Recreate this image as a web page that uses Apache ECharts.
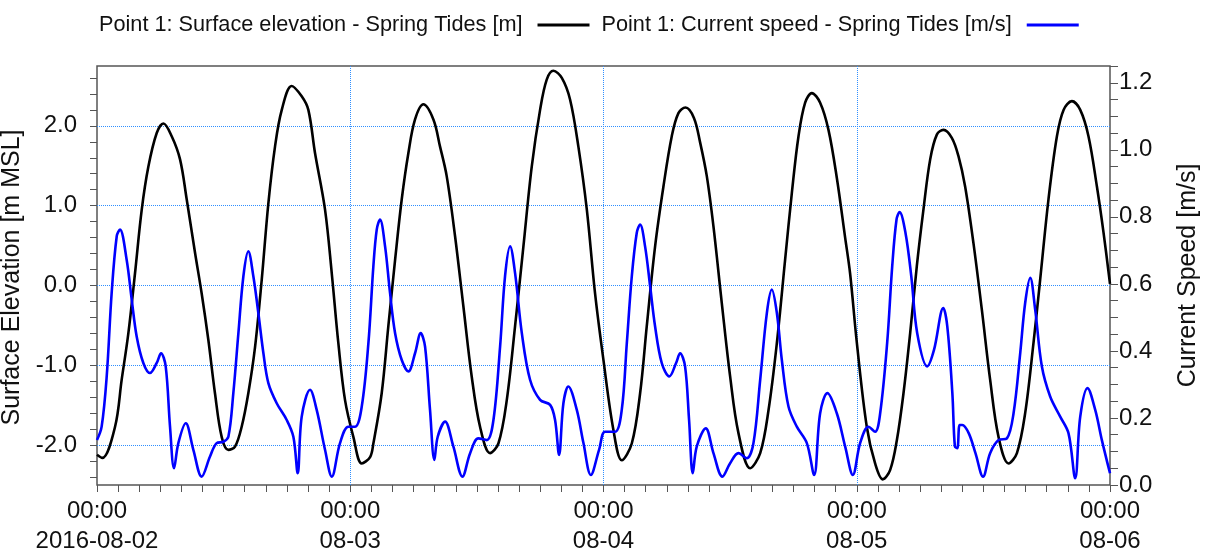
<!DOCTYPE html>
<html>
<head>
<meta charset="utf-8">
<script src="https://cdn.jsdelivr.net/npm/echarts@6/dist/echarts.min.js"></script>
<style>
  html, body { margin: 0; padding: 0; background: #ffffff; }
  #chart { width: 1205px; height: 556px; }
</style>
</head>
<body>
<div id="chart"></div>
<script>
// Series names shown in the legend
const seriesNames = [
  'Point 1: Surface elevation - Spring Tides [m]',
  'Point 1: Current speed - Spring Tides [m/s]'
];

// Time-axis labels, one per day (hours since 2016-08-02 00:00)
const dayLabels = ['00:00\n2016-08-02', '00:00\n08-03', '00:00\n08-04', '00:00\n08-05', '00:00\n08-06'];

// Axis titles
const elevAxisName = 'Surface Elevation [m MSL]';
const speedAxisName = 'Current Speed [m/s]';

// Surface elevation [m MSL]: hours since start, value
const elevHours = [
  0, 0.5, 1.71, 2.34, 2.97, 3.6, 4.24, 4.87, 5.66, 6.29, 7.08, 7.87, 8.5, 9.29, 9.92, 10.55, 11.18, 11.82,
  12.45, 13.08, 13.71, 14.34, 14.98, 15.61, 16.24, 16.87, 17.51, 18.45, 19.4, 20.03, 20.66, 21.61, 22.25,
  22.87, 23.51, 24.3, 25.09, 25.88, 26.19, 26.98, 27.61, 28.25, 28.88, 29.51, 30.14, 30.93, 31.88, 32.51,
  33.14, 33.93, 34.72, 35.51, 36.3, 37.25, 38.04, 38.83, 39.62, 40.41, 41.2, 41.99, 42.62, 43.25, 44.05,
  44.83, 45.62, 46.42, 47.2, 47.99, 48.94, 49.73, 50.68, 51.47, 52.1, 52.89, 53.68, 54.47, 55.1, 55.77,
  56.57, 57.16, 57.79, 58.42, 59.21, 60.0, 60.79, 61.9, 62.85, 63.64, 64.43, 65.21, 65.85, 66.48, 67.11,
  67.74, 68.53, 69.32, 70.11, 70.9, 71.37, 72.01, 72.95, 73.74, 74.47, 75.17, 75.8, 76.43, 77.06, 77.69,
  78.32, 78.96, 79.59, 80.22, 81.01, 81.64, 82.27, 83.06, 83.86, 84.64, 85.44, 86.39, 87.18, 87.96, 88.75,
  89.38, 90.17, 90.97, 91.6, 92.39, 93.18, 93.96, 94.76, 95.39, 96
];
const elevValues = [
  -2.12, -2.16, -1.77, -1.18, -0.6, 0.15, 0.95, 1.49, 1.91, 2.03, 1.87, 1.58, 1.08, 0.41, -0.1, -0.68, -1.35, -1.9,
  -2.06, -2.02, -1.77, -1.35, -0.77, 0.07, 1.03, 1.74, 2.2, 2.5, 2.37, 2.2, 1.66, 0.95, 0.15,
  -0.72, -1.44, -1.9, -2.23, -2.15, -1.98, -1.35, -0.51, 0.32, 1.08, 1.66, 2.08, 2.27, 2.08, 1.74,
  1.37, 0.62, -0.26, -1.14, -1.77, -2.1, -1.98, -1.44, -0.51, 0.49, 1.49, 2.2, 2.58, 2.69, 2.6,
  2.33, 1.74, 0.95, -0.1, -0.93, -1.81, -2.19, -1.98, -1.35, -0.51, 0.49, 1.24, 1.87, 2.16, 2.23,
  2.1, 1.79, 1.37, 0.74, -0.22, -1.14, -1.85, -2.29, -2.1, -1.56, -0.72, 0.32, 1.16, 1.87, 2.29,
  2.41, 2.29, 1.95, 1.35, 0.6, 0.15, -0.72, -1.77, -2.23, -2.43, -2.31, -1.94, -1.35, -0.6, 0.24,
  0.95, 1.58, 1.89, 1.95, 1.85, 1.62, 1.24, 0.53, -0.31, -1.18, -1.9, -2.23, -2.1, -1.6, -0.72,
  0.07, 1.08, 1.87, 2.2, 2.31, 2.2, 1.87, 1.24, 0.66, 0.02
];

// Current speed [m/s]: hours since start, value
const speedHours = [
  0, 0.44, 0.92, 1.39, 1.87, 2.18, 2.81, 3.29, 3.76, 4.39, 5.02, 5.66, 6.07, 6.51, 6.92, 7.3, 7.71, 8.41,
  9.13, 9.92, 10.71, 11.34, 11.97, 12.45, 12.92, 13.4, 13.87, 14.34, 14.82, 15.29, 15.77, 16.24, 17.03,
  17.98, 18.61, 19.02, 19.4, 20.19, 20.82, 21.61, 22.25, 23.03, 23.82, 24.46, 25.09, 25.72, 26.19, 26.51,
  26.82, 27.3, 27.77, 28.25, 28.88, 29.51, 30.14, 30.68, 31.09, 31.56, 31.97, 32.29, 32.99, 33.77, 34.63,
  35.36, 36.14, 36.94, 37.57, 38.2, 38.67, 39.15, 39.62, 40.26, 41.04, 41.99, 42.94, 43.41, 43.79, 44.2,
  44.67, 45.47, 46.1, 46.8, 47.58, 48.15, 49.1, 49.73, 50.21, 50.68, 51.15, 51.47, 51.94, 52.42, 52.89,
  53.52, 54.24, 54.88, 55.26, 55.73, 56.11, 56.46, 56.84, 57.69, 58.42, 59.27, 60.0, 60.79, 61.58, 62.21,
  62.85, 63.48, 63.95, 64.43, 64.9, 65.53, 66.32, 67.27, 67.96, 68.53, 69.22, 70.11, 70.9, 71.63, 72.32,
  73.11, 73.74, 74.22, 74.88, 75.36, 75.77, 76.06, 76.62, 77.17, 77.73, 78.68, 79.32, 80.2, 80.58, 81.06,
  81.3, 81.53, 81.75, 82.0, 82.62, 83.25, 83.97, 84.64, 85.44, 86.23, 86.86, 87.49, 87.96, 88.44, 88.91,
  89.54, 90.33, 91.28, 92.07, 92.7, 93.18, 93.87, 94.6, 95.23, 96
];
const speedValues = [
  0.134, 0.174, 0.324, 0.573, 0.742, 0.762, 0.672, 0.553, 0.443, 0.364, 0.334, 0.364, 0.393, 0.354, 0.174, 0.05, 0.125, 0.184,
  0.105, 0.025, 0.085, 0.125, 0.129, 0.144, 0.274, 0.453, 0.622, 0.697, 0.622, 0.513, 0.393, 0.304, 0.244,
  0.194, 0.144, 0.035, 0.204, 0.284, 0.224, 0.105, 0.025, 0.125, 0.174, 0.174, 0.234, 0.423, 0.652, 0.762,
  0.792, 0.712, 0.573, 0.453, 0.373, 0.339, 0.393, 0.453, 0.413, 0.224, 0.075, 0.144, 0.189, 0.115, 0.025,
  0.095, 0.139, 0.134, 0.194, 0.413, 0.623, 0.712, 0.632, 0.453, 0.314, 0.254, 0.239, 0.194, 0.09, 0.244,
  0.294, 0.224, 0.125, 0.03, 0.105, 0.159, 0.159, 0.224, 0.423, 0.622, 0.752, 0.777, 0.712, 0.593, 0.473,
  0.364, 0.324, 0.364, 0.393, 0.354, 0.194, 0.035, 0.115, 0.169, 0.095, 0.025, 0.065, 0.095, 0.08, 0.125,
  0.314, 0.513, 0.583, 0.513, 0.373, 0.234, 0.174, 0.125, 0.03, 0.214, 0.274, 0.214, 0.115, 0.03, 0.125,
  0.174, 0.159, 0.214, 0.423, 0.652, 0.792, 0.814, 0.752, 0.622, 0.453, 0.354, 0.403, 0.528, 0.473, 0.274,
  0.115, 0.11, 0.179, 0.179, 0.154, 0.095, 0.025, 0.095, 0.134, 0.139, 0.214, 0.393, 0.543, 0.618, 0.523,
  0.354, 0.264, 0.204, 0.154, 0.02, 0.204, 0.289, 0.224, 0.134, 0.035
];

// ---- layout -------------------------------------------------------------
const W = 1205, H = 556;
const frame = { left: 97, right: 1110, top: 66, bottom: 485 };
const hourRange = [0, 96];
const elevRange = [-2.5, 2.75];
const speedRange = [0, 1.25];
const elevTickRange = [-2.4, 2.6];   // tick marks every 0.2 m
const elevLineRange = [-2, 2];       // dotted reference lines every 1 m
const dayLineRange = [24, 72];       // dotted day separators

const FONT = '"Liberation Sans", Arial, Helvetica, sans-serif';
const TEXT = '#111111';
const AXIS = '#555555';
const GRIDLINE = { type: 'dotted', color: '#2f8fff', width: 1 };

// A grid covering only a sub-range of an axis, aligned with the frame.
function vBand(range, sub) {
  const ppu = (frame.bottom - frame.top) / (range[1] - range[0]);
  return {
    left: frame.left, right: W - frame.right,
    top: frame.top + (range[1] - sub[1]) * ppu,
    bottom: H - (frame.bottom - (sub[0] - range[0]) * ppu),
    outerBoundsMode: 'none'
  };
}
function hBand(range, sub) {
  const ppu = (frame.right - frame.left) / (range[1] - range[0]);
  return {
    top: frame.top, bottom: H - frame.bottom,
    left: frame.left + (sub[0] - range[0]) * ppu,
    right: W - (frame.left + (sub[1] - range[0]) * ppu),
    outerBoundsMode: 'none'
  };
}

const isMultiple = (v, step) => Math.abs(v / step - Math.round(v / step)) < 1e-6;

const hiddenAxis = (gridIndex, range, extra) => Object.assign({
  type: 'value', gridIndex, min: range[0], max: range[1],
  axisLine: { show: false, onZero: false }, axisTick: { show: false },
  axisLabel: { show: false }, splitLine: { show: false }
}, extra || {});

const tickStyle = len => ({ show: true, length: len, lineStyle: { color: AXIS, width: 1 } });
const labelStyle = (formatter, margin) => ({ formatter, fontFamily: FONT, fontSize: 24, color: TEXT, margin });
const nameStyle = { fontFamily: FONT, fontSize: 25, color: TEXT };
const elevLabel = v => isMultiple(v, 1) ? Math.round(v).toFixed(1) : '';
const speedLabel = v => isMultiple(v, 0.2) ? (Math.round(v * 5) / 5).toFixed(1) : '';

function buildOption(withBands) {
  const grids = [
    { left: frame.left, right: W - frame.right, top: frame.top, bottom: H - frame.bottom,
      outerBoundsMode: 'none', show: true, borderColor: AXIS, borderWidth: 1.5 }
  ];
  const xAxes = [{
    type: 'value', gridIndex: 0, min: hourRange[0], max: hourRange[1], interval: 24,
    axisLine: { show: false, onZero: false },
    axisTick: tickStyle(7),
    minorTick: { show: true, splitNumber: 12, length: 7, lineStyle: { color: AXIS, width: 1 } },
    splitLine: { show: false },
    axisLabel: Object.assign(labelStyle(v => dayLabels[Math.round(v / 24)] || '', 11), { lineHeight: 30 })
  }];
  const elevName = { name: elevAxisName, nameLocation: 'middle', nameRotate: 90, nameGap: 58, nameTextStyle: nameStyle };
  const yAxes = [
    withBands ? hiddenAxis(0, elevRange)
      : Object.assign(hiddenAxis(0, elevRange, { interval: 0.25, axisTick: tickStyle(7), axisLabel: labelStyle(elevLabel, 20) }), elevName),
    {
      type: 'value', gridIndex: 0, min: speedRange[0], max: speedRange[1], interval: 0.05, position: 'right',
      axisLine: { show: false, onZero: false }, axisTick: tickStyle(8), splitLine: { show: false },
      axisLabel: labelStyle(speedLabel, 9),
      name: speedAxisName, nameLocation: 'middle', nameRotate: 90, nameGap: 66, nameTextStyle: nameStyle
    }
  ];
  if (withBands) {
    grids.push(vBand(elevRange, elevTickRange));
    xAxes.push(hiddenAxis(1, hourRange));
    yAxes.push(Object.assign({
      type: 'value', gridIndex: 1, min: elevTickRange[0], max: elevTickRange[1], interval: 0.2,
      axisLine: { show: false, onZero: false }, axisTick: tickStyle(7), splitLine: { show: false },
      axisLabel: labelStyle(elevLabel, 20)
    }, elevName));

    grids.push(vBand(elevRange, elevLineRange));
    xAxes.push(hiddenAxis(2, hourRange));
    yAxes.push(hiddenAxis(2, elevLineRange, { interval: 1, splitLine: { show: true, lineStyle: GRIDLINE } }));

    grids.push(hBand(hourRange, dayLineRange));
    xAxes.push(hiddenAxis(3, dayLineRange, { interval: 24, splitLine: { show: true, lineStyle: GRIDLINE } }));
    yAxes.push(hiddenAxis(3, [0, 1]));
  }
  return {
    animation: false,
    backgroundColor: '#ffffff',
    legend: {
      left: 94, top: 9,
      align: 'right',
      icon: 'rect',
      itemWidth: 52, itemHeight: 3, itemGap: 12,
      formatter: name => '{t|' + name + '}',
      textStyle: {
        fontFamily: FONT, fontSize: 21.7, color: TEXT,
        rich: { t: { fontFamily: FONT, fontSize: 21.7, color: TEXT, padding: [0, 10, 0, 0] } }
      },
      data: seriesNames
    },
    grid: grids,
    xAxis: xAxes,
    yAxis: yAxes,
    series: [
      {
        name: seriesNames[0], type: 'line', xAxisIndex: 0, yAxisIndex: 0,
        data: elevHours.map((h, i) => [h, elevValues[i]]),
        symbol: 'none', smooth: 0.35,
        lineStyle: { color: '#000000', width: 2.6 },
        itemStyle: { color: '#000000' }
      },
      {
        name: seriesNames[1], type: 'line', xAxisIndex: 0, yAxisIndex: 1,
        data: speedHours.map((h, i) => [h, speedValues[i]]),
        symbol: 'none', smooth: 0.35,
        lineStyle: { color: '#0000ff', width: 2.6 },
        itemStyle: { color: '#0000ff' }
      }
    ]
  };
}

const host = document.getElementById('chart');
let chart = echarts.init(host, null, { renderer: 'canvas' });
try {
  chart.setOption(buildOption(true));
} catch (e) {
  // Simpler single-grid layout if the banded axes cannot be drawn
  chart.dispose();
  chart = echarts.init(host, null, { renderer: 'canvas' });
  chart.setOption(buildOption(false));
}
</script>
</body>
</html>
